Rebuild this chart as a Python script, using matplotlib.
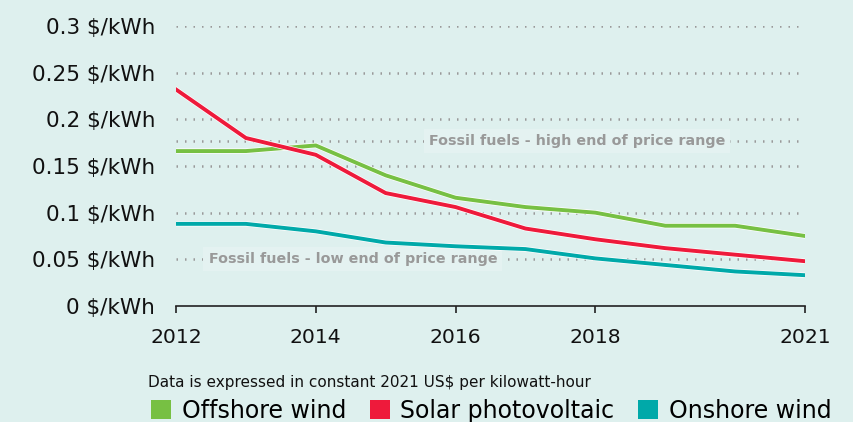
import matplotlib
matplotlib.use("Agg")
import matplotlib.pyplot as plt
import matplotlib.patheffects as pe
from matplotlib.patches import Patch

years = [2012, 2013, 2014, 2015, 2016, 2017, 2018, 2019, 2020, 2021]
offshore = [0.166, 0.166, 0.172, 0.140, 0.116, 0.106, 0.100, 0.086, 0.086, 0.075]
solar = [0.232, 0.180, 0.162, 0.121, 0.106, 0.083, 0.0715, 0.062, 0.055, 0.048]
onshore = [0.088, 0.088, 0.080, 0.068, 0.064, 0.061, 0.051, 0.044, 0.037, 0.033]
series_names = ["Offshore wind", "Solar photovoltaic", "Onshore wind"]
colors = ["#77c043", "#ee1a3b", "#00a9a9"]
yticks = [0, 0.05, 0.1, 0.15, 0.2, 0.25, 0.3]
ytick_labels = ["0 $/kWh", "0.05 $/kWh", "0.1 $/kWh", "0.15 $/kWh", "0.2 $/kWh", "0.25 $/kWh", "0.3 $/kWh"]
xticks = [2012, 2014, 2016, 2018, 2021]
fossil_high = 0.177
fossil_low = 0.05
fossil_high_label = "Fossil fuels - high end of price range"
fossil_low_label = "Fossil fuels - low end of price range"
note = "Data is expressed in constant 2021 US$ per kilowatt-hour"

bg = "#def0ee"
plt.rcParams['font.family'] = ['DejaVu Sans']

fig = plt.figure(figsize=(8.54, 4.22), dpi=100, facecolor=bg)
W, H = 854, 422
left, right, top, bottom = 176, 805, 26, 306
ax = fig.add_axes([left / W, 1 - bottom / H, (right - left) / W, (bottom - top) / H])
ax.set_facecolor(bg)
ax.set_xlim(2012, 2021)
ax.set_ylim(0, 0.3)

for s in ["top", "right", "left"]:
    ax.spines[s].set_visible(False)
ax.spines["bottom"].set_color("#222222")
ax.spines["bottom"].set_linewidth(1.2)

ax.set_yticks(yticks)
ax.set_yticklabels(ytick_labels, fontsize=15.5, color="#111111")
ax.tick_params(axis="y", length=0, pad=15)
ax.set_xticks(xticks)
ax.set_xticklabels([str(x) for x in xticks], fontsize=14.7, color="#111111")
ax.tick_params(axis="x", length=5, width=1.2, color="#222222", pad=11, direction="out")

for v in yticks[1:]:
    ax.axhline(v, color="#999999", lw=1.8, ls=(0, (0.6, 2.8)), zorder=1)
ax.axhline(fossil_high, color="#999999", lw=1.8, ls=(0, (0.6, 2.8)), zorder=1)

for data, c in zip([offshore, solar, onshore], colors):
    ax.plot(years, data, color=c, lw=2.8, zorder=5, solid_joinstyle="miter",
            path_effects=[pe.Stroke(linewidth=3.8, foreground="white"), pe.Normal()])

box = dict(boxstyle="square,pad=0.35", facecolor="#e4f2f1", edgecolor="none")
ax.text(2017.74, fossil_high, fossil_high_label, fontsize=10.3, fontweight="bold", color="#999999",
        ha="center", va="center", bbox=box, zorder=3)
ax.text(2014.53, fossil_low, fossil_low_label, fontsize=10.3, fontweight="bold", color="#999999",
        ha="center", va="center", bbox=box, zorder=3)

fig.text(148 / W, 1 - 382 / H, note, fontsize=11, color="#111111", ha="left", va="center")

handles = [Patch(facecolor=c, edgecolor="none") for c in colors]
fig.legend(handles, series_names, loc="center left", bbox_to_anchor=(151 / W, 1 - 411 / H),
           ncol=3, frameon=False, fontsize=17, handlelength=0.85, handleheight=0.85,
           handletextpad=0.45, columnspacing=1.0, borderaxespad=0, borderpad=0)

fig.savefig("out.png", dpi=100, facecolor=bg)
